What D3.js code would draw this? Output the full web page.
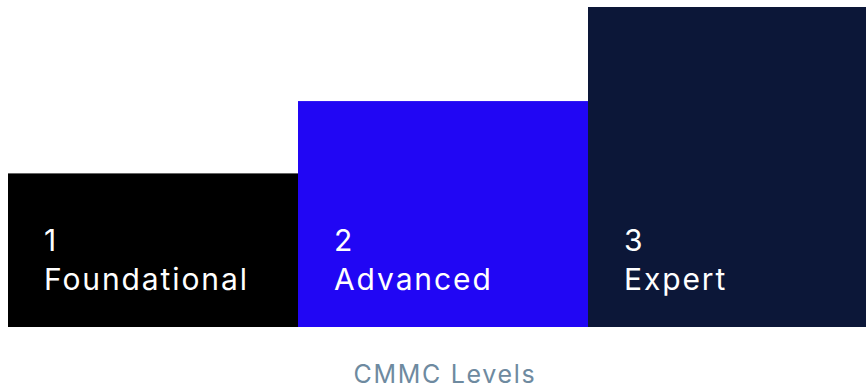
<!DOCTYPE html>
<html>
<head>
<meta charset="utf-8">
<script src="https://cdn.jsdelivr.net/npm/d3@7"></script>
<style>
  body { margin: 0; background: #fff; }
  svg { display: block; }
  .lvl text { fill: #fff; font-family: Inter, "Liberation Sans", sans-serif; font-size: 30px; letter-spacing: 1.9px; }
  .axis-title { fill: #6e8aa0; font-family: Inter, "Liberation Sans", sans-serif; font-size: 25px; letter-spacing: 1.7px; }
</style>
</head>
<body>
<div id="chart"></div>
<script>
const levels = ["1", "2", "3"],
    names = ["Foundational", "Advanced", "Expert"],
    heights = [48, 70.6, 100],
    colors = ["#000000", "#2106f4", "#0c1738"];

const wh = 866,
    ht = 389;

const svg = d3.select("#chart")
    .append("svg")
    .attr("width", wh)
    .attr("height", ht)

var x = d3.scaleBand()
    .domain(levels)
    .range([8, 878])
    .padding(0)

var y = d3.scaleLinear()
    .domain([0, 100])
    .range([327, 7])

var g = svg.selectAll("g.lvl")
    .data(levels)
    .enter()
    .append("g")
    .attr("class", "lvl")

g.append("rect")
    .attr("x", function(d) { return x(d) })
    .attr("width", x.bandwidth())
    .attr("y", function(d, i) { return y(heights[i]) })
    .attr("height", function(d, i) { return y(0) - y(heights[i]) })
    .attr("fill", function(d, i) { return colors[i] })

g.append("text")
    .attr("x", function(d) { return x(d) + 36 })
    .attr("y", 251)
    .text(function(d) { return d })

g.append("text")
    .attr("x", function(d) { return x(d) + 36 })
    .attr("y", 290)
    .text(function(d, i) { return names[i] })

svg.append("text")
    .attr("class", "axis-title")
    .attr("x", 445)
    .attr("y", 383)
    .attr("text-anchor", "middle")
    .text("CMMC Levels")
</script>
</body>
</html>
